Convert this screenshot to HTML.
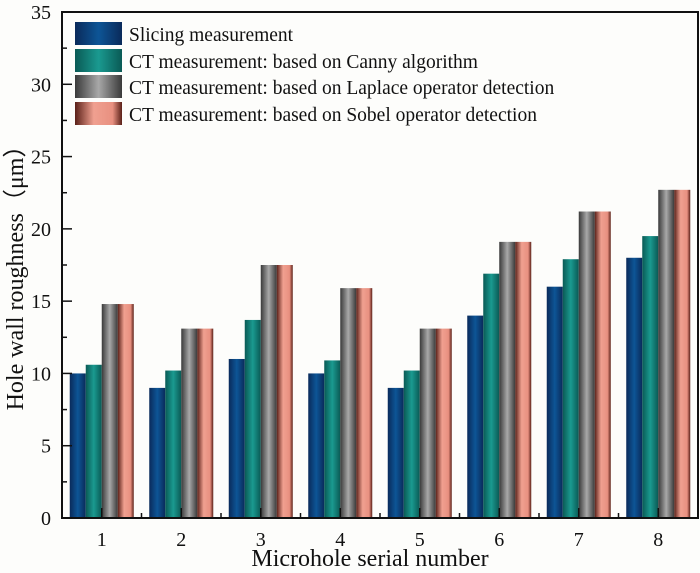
<!DOCTYPE html>
<html><head><meta charset="utf-8"><style>body{margin:0;background:#fdfdfb}svg{display:block}text{font-family:"Liberation Serif",serif;fill:#111}</style></head>
<body>
<svg width="700" height="573" viewBox="0 0 700 573" xmlns="http://www.w3.org/2000/svg">
<defs>
<linearGradient id="gb" x1="0" x2="1"><stop offset="0" stop-color="#0a2a5a"/><stop offset="0.5" stop-color="#0d5596"/><stop offset="1" stop-color="#0a2a5a"/></linearGradient>
<linearGradient id="gt" x1="0" x2="1"><stop offset="0" stop-color="#0a5a55"/><stop offset="0.5" stop-color="#1a9a90"/><stop offset="1" stop-color="#0a5a55"/></linearGradient>
<linearGradient id="gg" x1="0" x2="1"><stop offset="0" stop-color="#3a3a3a"/><stop offset="0.5" stop-color="#a8a8a8"/><stop offset="1" stop-color="#3a3a3a"/></linearGradient>
<linearGradient id="gp" x1="0" x2="1"><stop offset="0" stop-color="#5a2018"/><stop offset="0.4" stop-color="#f0a090"/><stop offset="0.8" stop-color="#e89080"/><stop offset="1" stop-color="#5a2018"/></linearGradient>
</defs>
<rect width="700" height="573" fill="#fdfdfb"/>
<g id="bars"></g>
<rect x="62" y="12" width="636" height="506" fill="none" stroke="#111" stroke-width="2"/>
<g id="ax" stroke="#111" stroke-width="1.5"></g>
<g id="lbl" font-size="20"></g>
<g font-size="19.5">
<rect x="75" y="22" width="47" height="23" fill="url(#gb)"/><text x="129" y="41">Slicing measurement</text>
<rect x="75" y="49" width="47" height="23" fill="url(#gt)"/><text x="129" y="68">CT measurement: based on Canny algorithm</text>
<rect x="75" y="75" width="47" height="23" fill="url(#gg)"/><text x="129" y="94">CT measurement: based on Laplace operator detection</text>
<rect x="75" y="102" width="47" height="23" fill="url(#gp)"/><text x="129" y="121">CT measurement: based on Sobel operator detection</text>
</g>
<text x="370" y="566" font-size="24" text-anchor="middle">Microhole serial number</text>
<text transform="translate(23,272) rotate(-90)" font-size="24" text-anchor="middle">Hole wall roughness（μm）</text>
<script>
var d=[[10,10.6,14.8,14.8],[9,10.2,13.1,13.1],[11,13.7,17.5,17.5],[10,10.9,15.9,15.9],[9,10.2,13.1,13.1],[14,16.9,19.1,19.1],[16,17.9,21.2,21.2],[18,19.5,22.7,22.7]];
var f=['gb','gt','gg','gp'],ns='http://www.w3.org/2000/svg',s=14.457;
function el(p,t,a,tx){var e=document.createElementNS(ns,t);for(var k in a)e.setAttribute(k,a[k]);if(tx)e.textContent=tx;document.getElementById(p).appendChild(e);}
d.forEach(function(g,i){var c=101.75+i*79.5;g.forEach(function(v,j){el('bars','rect',{x:c-32+j*16,y:518-v*s,width:16,height:v*s,fill:'url(#'+f[j]+')'});});
el('ax','line',{x1:c,x2:c,y1:518,y2:508});el('lbl','text',{x:c,y:546,'text-anchor':'middle'},''+(i+1));
if(i<7)el('ax','line',{x1:c+39.75,x2:c+39.75,y1:518,y2:513});});
for(var v=0;v<=35;v+=2.5){var y=518-v*s,m=v%5==0;el('ax','line',{x1:62,x2:m?72:67,y1:y,y2:y});if(m)el('lbl','text',{x:51,y:y+7,'text-anchor':'end'},''+v);}
</script>
</svg>
</body></html>
